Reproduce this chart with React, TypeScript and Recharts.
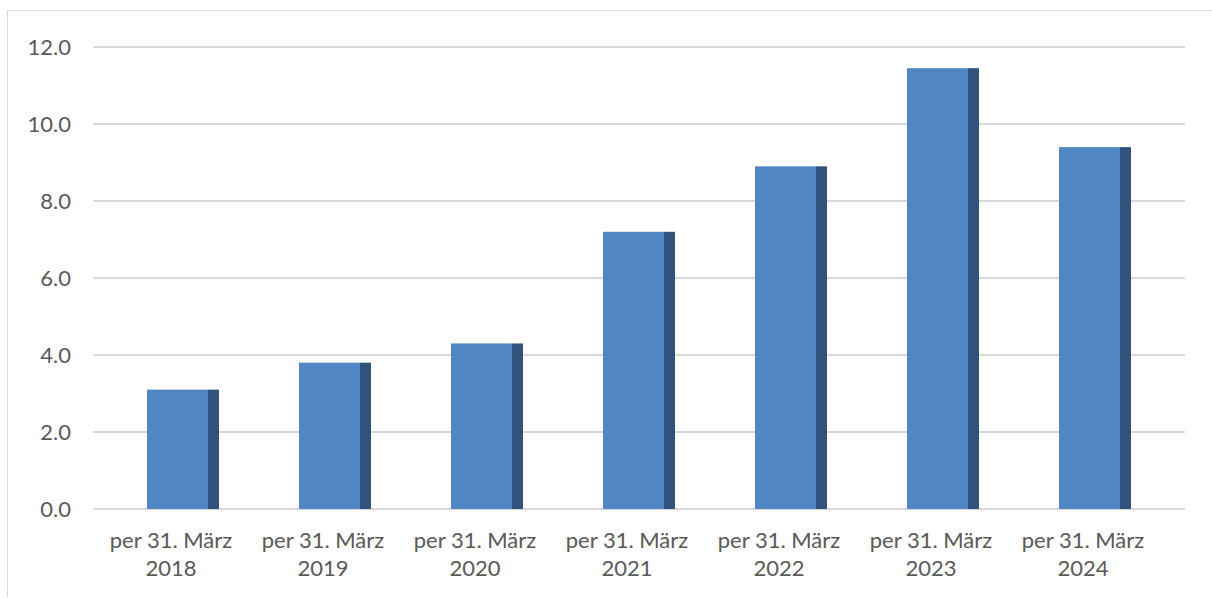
import React from "react";
import { BarChart, Bar, XAxis, YAxis, CartesianGrid } from "recharts";

const categories = [
  "per 31. März 2018",
  "per 31. März 2019",
  "per 31. März 2020",
  "per 31. März 2021",
  "per 31. März 2022",
  "per 31. März 2023",
  "per 31. März 2024",
];
const values = [3.1, 3.8, 4.3, 7.2, 8.9, 11.45, 9.4];
const yTicks = [0, 2, 4, 6, 8, 10, 12];

const data = categories.map((c, i) => ({ name: c, value: values[i] }));

const FONT = "Lato, 'Liberation Sans', sans-serif";
const TEXT = "#595959";

const Bar3D = (props: any) => {
  const { x, y, width, height } = props;
  if (height <= 0) return null;
  const side = width * (11 / 72);
  const front = width - side;
  const shift = 12;
  return (
    <g>
      <rect x={x + shift} y={y} width={front} height={height} fill="#5186C4" />
      <rect x={x + shift + front} y={y} width={side} height={height} fill="#31527A" />
    </g>
  );
};

const XTick = (props: any) => {
  const { x, y, payload } = props;
  const s: string = payload.value;
  const idx = s.lastIndexOf(" ");
  const l1 = s.slice(0, idx);
  const l2 = s.slice(idx + 1);
  return (
    <text x={x} y={y} textAnchor="middle" fill={TEXT} fontFamily={FONT} fontSize={22}>
      <tspan x={x} dy={39}>{l1}</tspan>
      <tspan x={x} dy={28}>{l2}</tspan>
    </text>
  );
};

export default function App() {
  return (
    <div style={{ position: "relative", width: 1212, height: 598, overflow: "hidden", background: "#fff" }}>
      <style>{"body{margin:0}"}</style>
      <div
        style={{
          position: "absolute",
          left: 7,
          top: 10,
          width: 1400,
          height: 587,
          borderLeft: "1px solid #d9d9d9",
          borderTop: "1px solid #d9d9d9",
          boxSizing: "border-box",
        }}
      />
      <div style={{ position: "absolute", left: 0, top: 0 }}>
        <BarChart
          width={1212}
          height={598}
          data={data}
          margin={{ top: 47, right: 27, bottom: 29, left: 33 }}
        >
          <CartesianGrid vertical={false} stroke="#d9d9d9" strokeWidth={2} />
          <XAxis
            dataKey="name"
            axisLine={false}
            tickLine={false}
            tickSize={0}
            tickMargin={0}
            padding={{ left: 2, right: 26 }}
            tick={<XTick />}
            interval={0}
            height={60}
          />
          <YAxis
            domain={[0, 12]}
            ticks={yTicks}
            axisLine={false}
            tickLine={false}
            tickSize={0}
            tickMargin={22}
            width={60}
            tickFormatter={(v: number) => v.toFixed(1)}
            tick={{ fill: TEXT, fontFamily: FONT, fontSize: 22 }}
          />
          <Bar dataKey="value" barSize={72} shape={<Bar3D />} isAnimationActive={false} />
        </BarChart>
      </div>
    </div>
  );
}
